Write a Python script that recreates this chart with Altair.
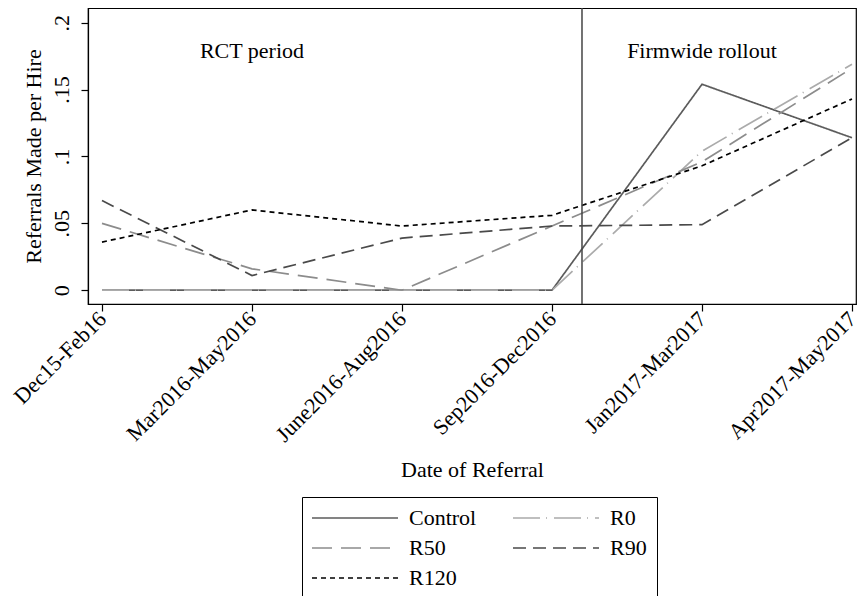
import altair as alt
import pandas as pd

periods = ["Dec15-Feb16", "Mar2016-May2016", "June2016-Aug2016",
           "Sep2016-Dec2016", "Jan2017-Mar2017", "Apr2017-May2017"]
groups = ["Control", "R0", "R50", "R90", "R120"]
control = [0.0, 0.0, 0.0, 0.0, 0.154, 0.114]
r0 = [0.0, 0.0, 0.0, 0.0, 0.104, 0.169]
r50 = [0.050, 0.016, 0.0, 0.048, 0.096, 0.166]
r90 = [0.067, 0.011, 0.039, 0.048, 0.049, 0.114]
r120 = [0.036, 0.060, 0.048, 0.056, 0.093, 0.143]

colors = ["#5c5c5c", "#ababab", "#8c8c8c", "#4a4a4a", "#000000"]
dashes = [[1, 0], [27, 6, 1, 7], [20, 9], [13, 7], [5, 4]]

cutoff = [3.2]
notes = ["RCT period", "Firmwide rollout"]
note_x = [1.0, 4.0]
note_y = [0.179, 0.179]

rows = []
for g, vals in zip(groups, [control, r0, r50, r90, r120]):
    for i, v in enumerate(vals):
        rows.append({"idx": i, "period": periods[i], "group": g, "value": v})
df = pd.DataFrame(rows)

font = "Liberation Serif"
fs = 22
label_expr = "[" + ",".join("'" + p + "'" for p in periods) + "][datum.value]"

xscale = alt.Scale(domain=[-0.0933, 5.0267], nice=False, zero=False)
yscale = alt.Scale(domain=[-0.0103, 0.211], nice=False, zero=False)

lines = alt.Chart(df).mark_line(strokeWidth=1.7).encode(
    x=alt.X("idx:Q", scale=xscale,
            axis=alt.Axis(title="Date of Referral", values=list(range(6)),
                          labelExpr=label_expr, labelAngle=-45,
                          labelAlign="right", labelBaseline="middle",
                          labelPadding=4, tickSize=7, titlePadding=14)),
    y=alt.Y("value:Q", scale=yscale,
            axis=alt.Axis(title="Referrals Made per Hire",
                          values=[0, 0.05, 0.1, 0.15, 0.2],
                          labelExpr="datum.value == 0 ? '0' : replace(format(datum.value, '.2~f'), '0.', '.')",
                          labelAngle=-90, labelAlign="center",
                          labelBaseline="bottom", labelPadding=8,
                          tickSize=7, titlePadding=5)),
    color=alt.Color("group:N", scale=alt.Scale(domain=groups, range=colors),
                    legend=alt.Legend(title=None)),
    strokeDash=alt.StrokeDash("group:N", scale=alt.Scale(domain=groups, range=dashes),
                              legend=alt.Legend(title=None)),
    detail="group:N",
)

rule = alt.Chart(pd.DataFrame({"x": cutoff})).mark_rule(
    color="#444444", strokeWidth=1.5).encode(x=alt.X("x:Q", scale=xscale))

text = alt.Chart(pd.DataFrame({"x": note_x, "y": note_y, "t": notes})).mark_text(
    font=font, fontSize=fs, color="#000000", align="center", baseline="middle"
).encode(x=alt.X("x:Q", scale=xscale), y=alt.Y("y:Q", scale=yscale), text="t:N")

chart = alt.layer(lines, rule, text).properties(
    width=768, height=296,
    autosize=alt.AutoSizeParams(type="none"),
    padding={"left": 80, "top": 0, "right": 1, "bottom": 292},
    background="white",
).configure_view(
    stroke="#000000", strokeWidth=1.2
).configure_axis(
    labelFont=font, titleFont=font, labelFontSize=fs, titleFontSize=fs,
    titleFontWeight="normal", labelColor="#000000", titleColor="#000000",
    domainColor="#000000", tickColor="#000000", grid=False,
    domainWidth=1.2, tickWidth=1.2,
).configure_legend(
    orient="none", legendX=214, legendY=489, columns=2, direction="horizontal",
    strokeColor="#000000", fillColor="white", padding=10,
    symbolType="M-1.1,0H7.5", symbolSize=400, symbolStrokeWidth=1.7,
    labelFont=font, labelFontSize=fs, labelColor="#000000",
    labelOffset=75, columnPadding=32, rowPadding=8,
)

chart.save("out.html", embed_options={"renderer": "svg", "actions": False})
